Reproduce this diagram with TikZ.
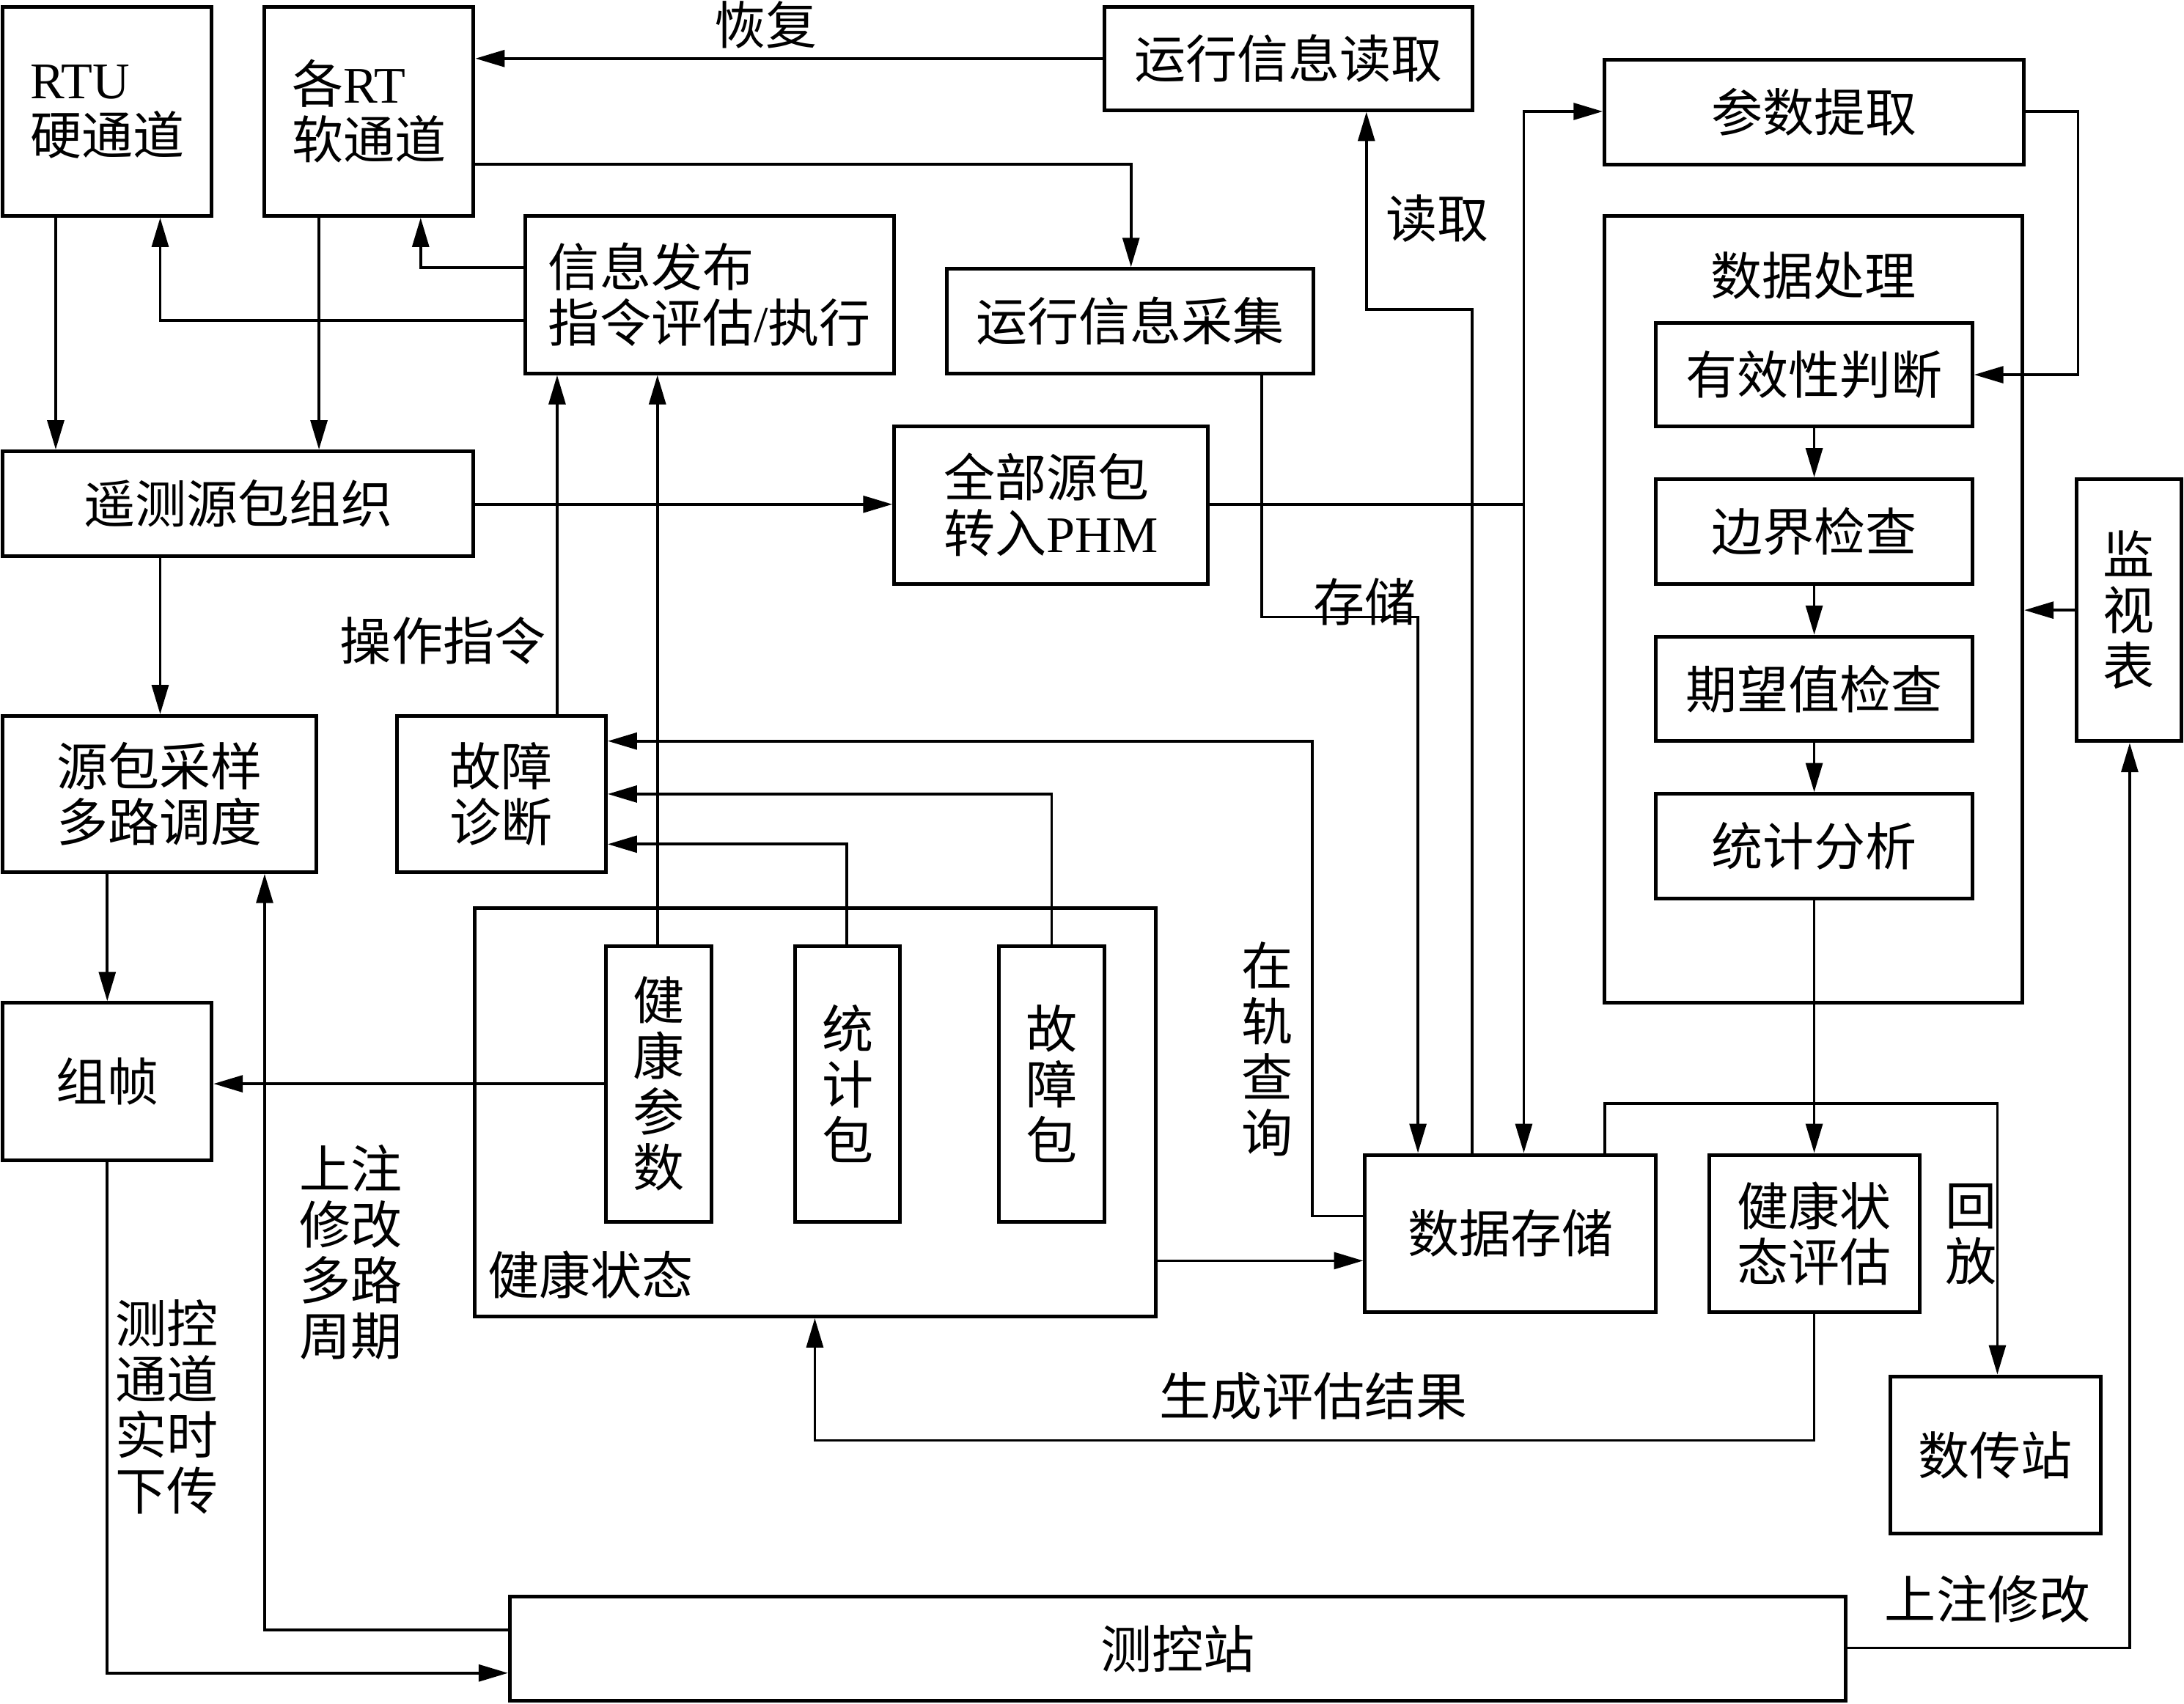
\documentclass[tikz,border=0pt]{standalone}
\usepackage{fontspec}
\setmainfont{Liberation Serif}
\newfontfamily\cjk{Noto Sans CJK SC}
\usetikzlibrary{arrows.meta}
\tikzset{
 box/.style={draw, line width=1.5pt, inner sep=0pt, align=center},
 arr/.style={line width=1.1pt, -{Triangle[length=0.42cm,width=0.24cm]}},
 conn/.style={line width=1.1pt},
 lbl/.style={inner sep=0pt, align=center},
}
\newcommand\mybox[7][]{\node[box,#1,minimum width={(#5-#3)*0.02cm},minimum height={(#6-#4)*0.02cm}] (#2) at ({(#3+#5)/2},{(#4+#6)/2}) {#7};}
\begin{document}
\begin{tikzpicture}[x=0.02cm,y=-0.02cm,font=\cjk\fontsize{21}{22.8}\selectfont]
\useasboundingbox (0,0) rectangle (1568,1223);
% boxes
\mybox[align=left]{rtu}{2}{5}{152}{155}{{\rmfamily RTU}\\硬通道}
\mybox[align=left]{rt}{190}{5}{340}{155}{各{\rmfamily RT}\\软通道}
\mybox{yxdq}{793}{5}{1057}{79}{运行信息读取}
\mybox{cstq}{1152}{43}{1453}{118}{参数提取}
\mybox[align=left]{xxfb}{377}{155}{642}{268}{信息发布\\指令评估{\rmfamily /}执行}
\mybox{yxcj}{680}{193}{943}{268}{运行信息采集}
\mybox{sjcl}{1152}{155}{1452}{720}{}
\mybox{yxx}{1189}{232}{1416}{306}{有效性判断}
\mybox{bj}{1189}{344}{1416}{419}{边界检查}
\mybox{qw}{1189}{457}{1416}{532}{期望值检查}
\mybox{tjfx}{1189}{570}{1416}{645}{统计分析}
\mybox{jsb}{1491}{344}{1566}{532}{监\\视\\表}
\mybox{yc}{2}{324}{340}{399}{遥测源包组织}
\mybox[align=left]{qbyb}{642}{306}{867}{419}{全部源包\\转入{\rmfamily PHM}}
\mybox{ybcy}{2}{514}{227}{626}{源包采样\\多路调度}
\mybox{gzzd}{285}{514}{435}{626}{故障\\诊断}
\mybox{jkzt}{341}{652}{830}{945}{}
\mybox{jkcs}{435}{679}{511}{877}{健\\康\\参\\数}
\mybox{tjb}{571}{679}{646}{877}{统\\计\\包}
\mybox{gzb}{717}{679}{793}{877}{故\\障\\包}
\mybox{zz}{2}{720}{152}{833}{组帧}
\mybox{sjcc}{980}{829}{1189}{942}{数据存储}
\mybox{jkpg}{1227}{829}{1378}{942}{健康状\\态评估}
\mybox{scz}{1357}{988}{1508}{1101}{数传站}
\mybox{ckz}{366}{1146}{1325}{1221}{测控站}
% labels
\node[lbl] (lhf) at (550,18) {恢复};
\node[lbl] (ldq) at (1032,157) {读取};
\node[lbl] (lcc) at (980,432) {存储};
\node[lbl] (lcz) at (318,460) {操作指令};
\node[lbl] (lsjcl) at (1302,198) {数据处理};
\node[lbl] (ljkzt) at (424,915) {健康状态};
\node[lbl] (lzg) at (910,753) {在\\轨\\查\\询};
\node[lbl] (lhfang) at (1415,886) {回\\放};
\node[lbl] (lszxg) at (1427,1148) {上注修改};
\node[lbl] (lsc) at (943,1002) {生成评估结果};
\node[lbl] (lsz) at (252,899) {上注\\修改\\多路\\周期};
\node[lbl] (lck) at (120,1010) {测控\\通道\\实时\\下传};
% connectors
\draw[arr] (40,0 |- rtu.south) -- (40,0 |- yc.north);
\draw[arr] (229,0 |- rt.south) -- (229,0 |- yc.north);
\draw[arr] (yxdq.west |- 0,42) -- (rt.east |- 0,42);
\draw[arr] (rt.east |- 0,118) -- (812,118) -- (812,0 |- yxcj.north);
\draw[arr] (xxfb.west |- 0,192) -- (302,192) -- (302,0 |- rt.south);
\draw[arr] (xxfb.west |- 0,230) -- (115,230) -- (115,0 |- rtu.south);
\draw[arr] (400,0 |- gzzd.north) -- (400,0 |- xxfb.south);
\draw[arr] (472,0 |- jkcs.north) -- (472,0 |- xxfb.south);
\draw[arr] (jkcs.west |- 0,778) -- (zz.east |- 0,778);
\draw[arr] (yc.east |- 0,362) -- (qbyb.west |- 0,362);
\coordinate (j1) at (1094,362);
\draw[conn] (qbyb.east |- 0,362) -- (j1);
\draw[arr] (j1) -- (1094,80) -- (cstq.west |- 0,80);
\draw[arr] (j1) -- (1094,0 |- sjcc.north);
\draw[arr] (906,0 |- yxcj.south) -- (906,443) -- (1018,443) -- (1018,0 |- sjcc.north);
\draw[arr] (1057,0 |- sjcc.north) -- (1057,222) -- (981,222) -- (981,0 |- yxdq.south);
\draw[arr] (cstq.east |- 0,80) -- (1492,80) -- (1492,269) -- (yxx.east |- 0,269);
\draw[arr] (yxx.south) -- (bj.north);
\draw[arr] (bj.south) -- (qw.north);
\draw[arr] (qw.south) -- (tjfx.north);
\draw[arr] (tjfx.south) -- (tjfx.south |- jkpg.north);
\draw[arr] (jsb.west |- 0,438) -- (sjcl.east |- 0,438);
\draw[arr] (1152,0 |- sjcc.north) -- (1152,792) -- (1434,792) -- (1434,0 |- scz.north);
\draw[arr] (ckz.east |- 0,1183) -- (1529,1183) -- (1529,0 |- jsb.south);
\draw[arr] (jkpg.south) -- (jkpg.south |- 0,1034) -- (585,1034) -- (585,0 |- jkzt.south);
\draw[arr] (jkzt.east |- 0,905) -- (sjcc.west |- 0,905);
\draw[arr] (sjcc.west |- 0,873) -- (942,873) -- (942,532) -- (gzzd.east |- 0,532);
\draw[arr] (755,0 |- gzb.north) -- (755,570) -- (gzzd.east |- 0,570);
\draw[arr] (608,0 |- tjb.north) -- (608,606) -- (gzzd.east |- 0,606);
\draw[arr] (115,0 |- yc.south) -- (115,0 |- ybcy.north);
\draw[arr] (77,0 |- ybcy.south) -- (77,0 |- zz.north);
\draw[arr] (ckz.west |- 0,1170) -- (190,1170) -- (190,0 |- ybcy.south);
\draw[arr] (77,0 |- zz.south) -- (77,1201) -- (ckz.west |- 0,1201);
\end{tikzpicture}
\end{document}
